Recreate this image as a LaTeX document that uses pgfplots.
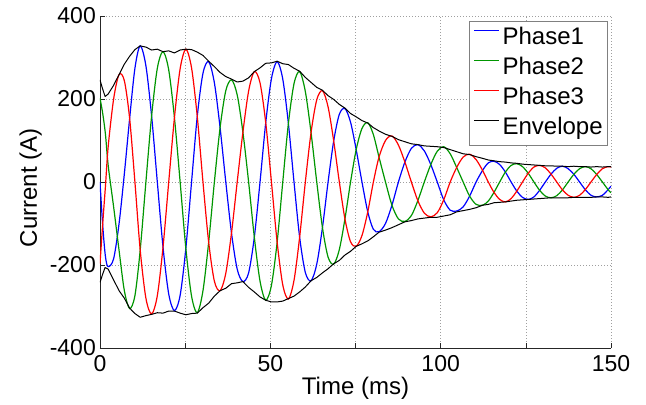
\documentclass[border=0pt]{standalone}
\usepackage{fontspec}
\setmainfont{Liberation Sans}
\usepackage{pgfplots}
\usepackage{pgfplotstable}
\pgfplotsset{compat=1.18}
\definecolor{phblue}{RGB}{0,0,255}
\definecolor{phgreen}{RGB}{0,150,0}
\definecolor{phred}{RGB}{255,0,0}

\pgfplotstableread{
t b g r
0 0 202 -197
0.8 -105 165 -100
1.6 -180 115 -10
2.4 -204 40 85
4.0 -185 -60 200
5.6 -100 -165 259
7.15 20 -262 244
8.7 153 -305 153
10.25 274 -274 0
11.8 328 -164 -164
13.475 280 0 -280
15.15 159 159 -318
16.825 0 274 -274
18.5 -157 314 -157
20.175 -270 270 0
21.85 -310 155 155
23.525 -273 0 273
25.2 -160 -160 320
26.875 0 -275 275
28.55 158 -315 158
30.225 262 -262 0
31.9 290 -145 -145
33.575 239 0 -239
35.25 131 131 -262
36.925 0 220 -220
38.6 -123 246 -123
40.275 -210 210 0
41.95 -240 120 120
43.625 -219 0 219
45.3 -133 -133 266
46.975 0 -239 239
48.65 143 -285 143
50.325 249 -249 0
52.0 290 -145 -145
53.65 248 0 -248
55.3 141 141 -282
56.95 0 237 -237
58.6 -133 266 -133
60.275 -218 218 0
61.95 -238 119 119
63.625 -198 0 198
65.3 -110 -110 220
66.95 0 -181 181
68.6 99 -198 99
70.25 163 -163 0
71.9 177 -89 -89
73.55 144 0 -144
75.2 78 78 -155
76.9 0 129 -129
78.6 -72 143 -72
80.25 -114 114 0
81.9 -120 60 60
83.8 -100 0 100
85.7 -56 -56 111
87.6 0 -89 89
89.5 48 -95 48
91.4 81 -81 0
93.3 90 -45 -45
95.2 75 0 -75
97.1 42 42 -84
99.0 0 74 -74
100.9 -43 85 -43
102.8 -68 68 0
104.7 -70 35 35
106.6 -60 0 60
108.5 -34 -34 67
110.4 0 -54 54
112.3 28 -56 28
113.975 46 -46 0
115.65 50 -25 -25
117.325 42 0 -42
119.0 24 24 -48
120.675 0 40 -40
122.35 -22 44 -22
124.025 -37 37 0
125.7 -42 21 21
127.375 -36 0 36
129.05 -20 -20 40
130.725 0 -34 34
132.4 19 -38 19
134.075 33 -33 0
135.75 38 -19 -19
137.425 32 0 -32
139.1 18.5 18.5 -37
140.775 0 32 -32
142.45 -18.5 37 -18.5
144.125 -32 32 0
145.8 -36 18 18
147.475 -32 0 32
149.15 -18.5 -18.5 37
150 -10 -26 36
}\phases

\pgfplotstableread{
t top bot
0 246 -242
0.7 226 -224
1.5 206 -206
2.4 212 -210
4.0 233 -236
5.6 259 -262
7.15 284 -280
8.7 303 -304
10.25 319 -317
11.8 328 -326
13.475 325 -322
15.15 318 -319
16.825 320 -315
18.5 314 -316
20.175 316 -311
21.85 311 -311
23.525 318 -316
25.2 320 -320
26.875 319 -317
28.55 313 -316
30.225 305 -303
31.9 291 -292
33.575 278 -275
35.25 264 -262
36.925 254 -256
38.6 248 -245
40.275 241 -243
41.95 243 -240
43.625 251 -254
45.3 266 -265
46.975 275 -277
48.65 286 -285
50.325 287 -289
52.0 291 -289
53.65 285 -287
55.3 283 -281
56.95 274 -275
58.6 267 -265
60.275 252 -253
61.95 240 -238
63.625 228 -230
65.3 221 -219
66.95 208 -209
68.6 199 -197
70.25 187 -189
71.9 178 -176
73.55 165 -167
75.2 157 -155
76.9 148 -149
78.6 142 -142
80.25 131 -132
81.9 123 -121
83.8 115 -116
85.7 110 -110
87.6 102 -103
89.5 97 -96
91.4 92 -93
93.3 90 -89
95.2 87 -87
97.1 86 -85
99.0 85 -85
100.9 83 -82
102.8 78 -79
104.7 73 -72
106.6 68 -69
108.5 66 -66
110.4 61 -62
112.3 57 -56
113.975 53 -54
115.65 51 -50
117.325 49 -49
119.0 48 -48
120.675 46 -46
122.35 45 -44
124.025 43 -43
125.7 42 -42
127.375 41 -41
129.05 40 -40
130.725 39 -39
132.4 39 -38
134.075 38 -38
135.75 38 -38
137.425 37 -38
139.1 38 -37
140.775 37 -37
142.45 37 -37
144.125 36 -37
145.8 37 -36
147.475 36 -36
149.15 37 -37
150 37 -36
}\env

\begin{document}
\begin{tikzpicture}
\begin{axis}[
  scale only axis, width=511bp, height=332bp,
  xmin=0, xmax=150, ymin=-400, ymax=400,
  axis x line*=bottom, axis y line*=left,
  axis line style={black!85, line width=0.8bp},
  xtick={0,25,...,150}, xticklabels={0,,50,,100,,150},
  ytick={-400,-200,0,200,400}, yticklabels={-400,-200,0,200,400},
  tick align=inside, major tick length=5bp,
  tick style={black!85, line width=0.6bp},
  grid=major,
  grid style={gray!75, line width=0.6bp, dash pattern=on 1bp off 2bp},
  tick label style={font=\fontsize{23bp}{27bp}\selectfont},
  xticklabel style={anchor=base, yshift=-24bp},
  yticklabel style={anchor=east, inner sep=0pt, xshift=-4bp},
  xlabel={Time (ms)},
  xlabel style={font=\fontsize{24bp}{28bp}\selectfont, at={(axis description cs:0.5,0)}, anchor=base, yshift=-47bp, inner sep=0pt},
  ylabel={Current (A)},
  ylabel style={font=\fontsize{24bp}{28bp}\selectfont, at={(axis description cs:-0.1135,0.482)}, anchor=south, inner sep=0pt},
  legend cell align=left,
  legend style={at={(1,1)}, anchor=north east, xshift=-3bp, yshift=-5bp,
    draw=gray, line width=0.6bp, fill=white,
    font=\fontsize{24bp}{28bp}\selectfont,
    inner xsep=4bp, inner ysep=4.5bp, row sep=4.7bp, column sep=3bp,
    nodes={inner sep=1bp, text height=18bp, text depth=5.3bp}},
  legend image code/.code={\fill[#1, draw=none] (0bp,7.1bp) rectangle (25bp,8.9bp);},
]
\addplot[phblue, line width=1.2bp, smooth] table[x=t, y=b]{\phases};
\addlegendentry{Phase1}
\addplot[phgreen, line width=1.2bp, smooth] table[x=t, y=g]{\phases};
\addlegendentry{Phase2}
\addplot[phred, line width=1.2bp, smooth] table[x=t, y=r]{\phases};
\addlegendentry{Phase3}
\addplot[black, line width=1bp, line join=round] table[x=t, y=top]{\env};
\addlegendentry{Envelope}
\addplot[black, line width=1bp, line join=round, forget plot] table[x=t, y=bot]{\env};
\end{axis}
\path ([shift={(-100bp,-57bp)}]current axis.south west) rectangle ([shift={(35bp,16bp)}]current axis.north east);
\end{tikzpicture}
\end{document}
